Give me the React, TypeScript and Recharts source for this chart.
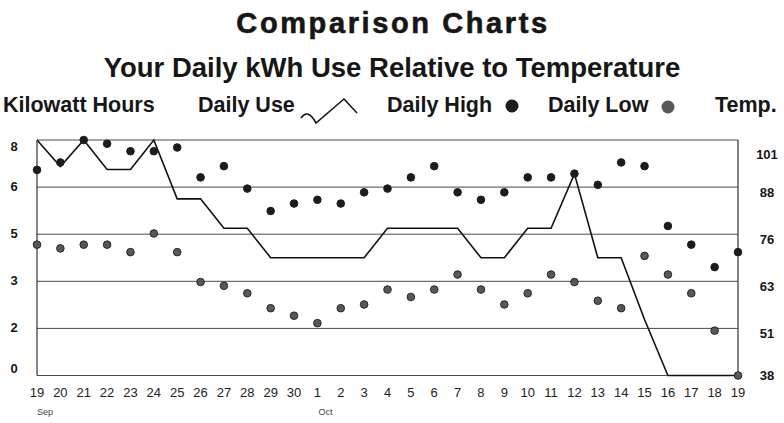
import React from 'react';
import { ComposedChart, Line, Scatter, XAxis, YAxis, CartesianGrid } from 'recharts';

// Sep 19 .. Oct 19
const dayLabels = [
  '19', '20', '21', '22', '23', '24', '25', '26', '27', '28', '29', '30',
  '1', '2', '3', '4', '5', '6', '7', '8', '9', '10', '11', '12', '13', '14', '15', '16', '17', '18', '19',
];
const monthStarts = [0, 12];
const monthNames = ['Sep', 'Oct'];

// kWh per day
const dailyUse = [
  8, 7.1, 8, 7.0, 7.0, 8, 6.0, 6.0, 5.0, 5.0, 4.0, 4.0, 4.0, 4.0, 4.0, 5.0,
  5.0, 5.0, 5.0, 4.0, 4.0, 5.0, 5.0, 6.85, 4.0, 4.0, 1.9, 0, 0, 0, 0,
];
// temperatures (F)
const dailyHigh = [
  93, 95, 101, 100, 98, 98, 99, 91, 94, 88, 82, 84, 85, 84, 87, 88,
  91, 94, 87, 85, 87, 91, 91, 92, 89, 95, 94, 78, 73, 67, 71,
];
const dailyLow = [
  73, 72, 73, 73, 71, 76, 71, 63, 62, 60, 56, 54, 52, 56, 57, 61,
  59, 61, 65, 61, 57, 60, 65, 63, 58, 56, 70, 65, 60, 50, 38,
];

const kwhTicks = [0, 1.6, 3.2, 4.8, 6.4, 8];
const kwhTickLabels = ['0', '2', '3', '5', '6', '8'];
const tempTicks = [38, 50.6, 63.2, 75.8, 88.4, 101];
const tempTickLabels = ['38', '51', '63', '76', '88', '101'];

const data = dayLabels.map((day, i) => ({
  idx: i,
  day,
  use: dailyUse[i],
  high: dailyHigh[i],
  low: dailyLow[i],
}));

const FONT = '"Liberation Sans", Arial, sans-serif';
const INK = '#161616';

const DayTick = (props: any) => {
  const { x, y, payload } = props;
  const i = payload.value as number;
  const m = monthStarts.indexOf(i);
  return (
    <g>
      <text x={x} y={y + 13} textAnchor="middle" fontSize={13} fontFamily={FONT} fill="#222">
        {dayLabels[i]}
      </text>
      {m >= 0 && (
        <text x={x + 8} y={y + 31} textAnchor="middle" fontSize={9} fontFamily={FONT} fill="#444">
          {monthNames[m]}
        </text>
      )}
    </g>
  );
};

const KwhTick = (props: any) => {
  const { x, y, index } = props;
  // top and bottom labels sit inside the frame
  const dy = index === kwhTicks.length - 1 ? 11 : index === 0 ? -3 : 4;
  return (
    <text x={x - 15} y={y + dy} textAnchor="middle" fontSize={13} fontWeight="bold" fontFamily={FONT} fill={INK}>
      {kwhTickLabels[index]}
    </text>
  );
};

const TempTick = (props: any) => {
  const { x, y, index } = props;
  const dy = index === tempTicks.length - 1 ? 19 : index === 0 ? 4.5 : 9.5;
  return (
    <text x={x + 21} y={y + dy} textAnchor="middle" fontSize={13} fontWeight="bold" fontFamily={FONT} fill={INK}>
      {tempTickLabels[index]}
    </text>
  );
};

const Dot = (fill: string, stroke: string) => (props: any) => (
  <circle cx={props.cx} cy={props.cy} r={3.8} fill={fill} stroke={stroke} strokeWidth={1} />
);

export default function App() {
  return (
    <div style={{ position: 'absolute', left: 0, top: 0, width: 784, height: 423, background: '#fff' }}>
      <ComposedChart
        width={784}
        height={423}
        data={data}
        margin={{ top: 140, right: 0, bottom: 0, left: 0 }}
      >
        <CartesianGrid yAxisId="kwh" vertical={false} stroke="#4a4a4a" strokeWidth={1} />
        <XAxis
          dataKey="idx"
          type="number"
          domain={[0, dayLabels.length - 1]}
          ticks={data.map((d) => d.idx)}
          interval={0}
          height={47.5}
          axisLine={false}
          tickLine={false}
          tick={<DayTick />}
        />
        <YAxis
          yAxisId="kwh"
          width={37}
          domain={[0, 8]}
          ticks={kwhTicks}
          interval={0}
          axisLine={{ stroke: '#333', strokeWidth: 1.2 }}
          tickLine={false}
          tick={<KwhTick />}
        />
        <YAxis
          yAxisId="temp"
          orientation="right"
          width={46}
          domain={[38, 101]}
          ticks={tempTicks}
          interval={0}
          axisLine={{ stroke: '#333', strokeWidth: 1.2 }}
          tickLine={false}
          tick={<TempTick />}
        />
        <Line
          yAxisId="kwh"
          type="linear"
          dataKey="use"
          stroke="#111"
          strokeWidth={1.6}
          dot={false}
          isAnimationActive={false}
        />
        <Scatter yAxisId="temp" dataKey="high" shape={Dot('#1c1c1c', '#1c1c1c')} isAnimationActive={false} />
        <Scatter yAxisId="temp" dataKey="low" shape={Dot('#585858', '#262626')} isAnimationActive={false} />
      </ComposedChart>

      <svg
        width={784}
        height={130}
        style={{ position: 'absolute', left: 0, top: 0, pointerEvents: 'none' }}
        fontFamily={FONT}
      >
        <text x={393} y={33} textAnchor="middle" fontSize={29} fontWeight="bold" letterSpacing={2.6} fill={INK} stroke={INK} strokeWidth={0.6}>
          Comparison Charts
        </text>
        <text x={392} y={77} textAnchor="middle" fontSize={27.5} fontWeight="bold" fill={INK}>
          Your Daily kWh Use Relative to Temperature
        </text>
        <g fontSize={21.5} fontWeight="bold" fill={INK}>
          <text x={3} y={112}>Kilowatt Hours</text>
          <text x={198} y={112}>Daily Use</text>
          <path d="M301 118 Q308 108 316 123 L344 99 L357 113" fill="none" stroke={INK} strokeWidth={1.6} />
          <text x={387} y={112}>Daily High</text>
          <circle cx={512} cy={106} r={6.5} fill="#1c1c1c" />
          <text x={548} y={112}>Daily Low</text>
          <circle cx={668} cy={107} r={6.5} fill="#585858" />
          <text x={715} y={112}>Temp.</text>
        </g>
      </svg>
    </div>
  );
}
